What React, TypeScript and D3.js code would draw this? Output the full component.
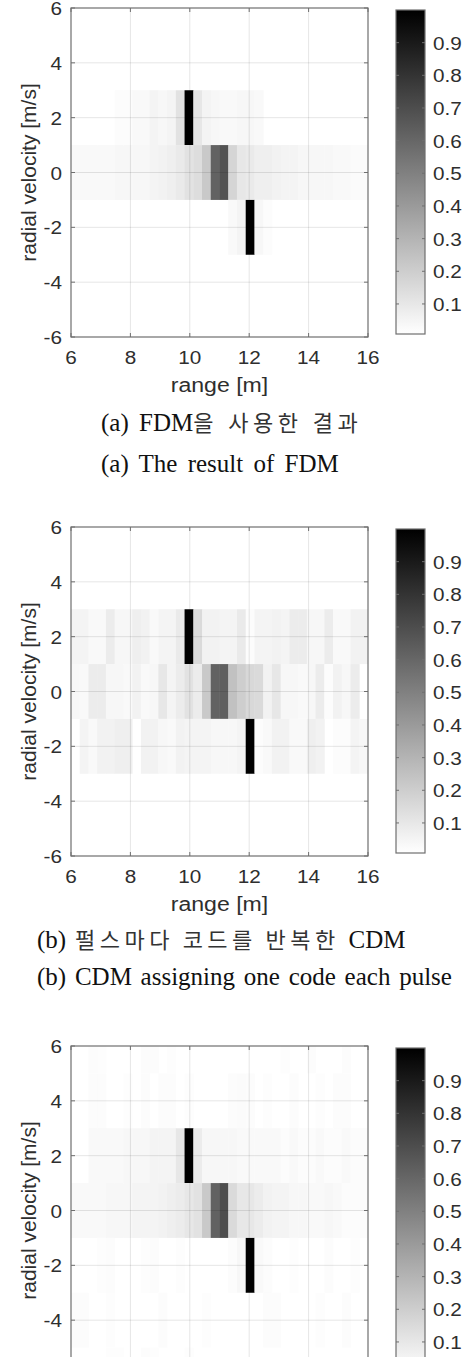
import { useRef, useEffect } from "react";
import * as d3 from "d3";

// axis ticks
const rangeTicks = [6, 8, 10, 12, 14, 16];
const velocityTicks = [-6, -4, -2, 0, 2, 4, 6];
const colorbarTicks = [0.1, 0.2, 0.3, 0.4, 0.5, 0.6, 0.7, 0.8, 0.9];
const colorLimits = [0.008, 1];

// grid of the range-doppler map
const rangeDomain = [6, 16];
const velocityDomain = [-6, 6];
const rangeBinCount = 34;
const velocityBins = [6, 4, 2, 0, -2, -4, -6]; // bin centres, 2 m/s wide

// (a) FDM, rows top to bottom, one value per range bin
const fdmRows: number[][] = [
  [],
  [],
  [0, 0, 0, 0, 0, 0.02, 0.02, 0.03, 0.03, 0.05, 0.04, 0.05, 0.12, 1.0, 0.1, 0.05, 0.04, 0.03, 0.03, 0.04, 0.04, 0.03],
  [0.03, 0.03, 0.03, 0.03, 0.03, 0.04, 0.04, 0.04, 0.04, 0.05, 0.06, 0.07, 0.09, 0.12, 0.14, 0.22, 0.62, 0.68, 0.17, 0.1, 0.09, 0.07, 0.07, 0.06, 0.05, 0.05, 0.04, 0.04, 0.04, 0.04, 0.03, 0.03, 0.025, 0.025],
  [0, 0, 0, 0, 0, 0, 0, 0, 0, 0, 0, 0, 0, 0, 0, 0, 0, 0, 0.03, 0.05, 1.0, 0.04, 0.02],
  [],
  [],
];

// (b) CDM assigning one code each pulse
const cdmRows: number[][] = [
  [],
  [],
  [0.05, 0.05, 0.03, 0.03, 0.08, 0.04, 0.04, 0.07, 0.06, 0.03, 0.05, 0.05, 0.09, 1.0, 0.15, 0.06, 0.06, 0.05, 0.05, 0.09, 0.02, 0.05, 0.05, 0.06, 0.05, 0.08, 0.08, 0.04, 0.04, 0.08, 0.03, 0.03, 0.06, 0.06],
  [0.04, 0.03, 0.08, 0.08, 0.04, 0.04, 0.03, 0.06, 0.03, 0.04, 0.1, 0.05, 0.08, 0.12, 0.08, 0.22, 0.62, 0.63, 0.25, 0.2, 0.16, 0.15, 0.06, 0.1, 0.04, 0.04, 0.03, 0.04, 0.08, 0.02, 0.06, 0.04, 0.08, 0],
  [0, 0.05, 0.03, 0.06, 0.06, 0.07, 0.07, 0, 0.06, 0.06, 0.04, 0.03, 0.06, 0.05, 0.05, 0.05, 0.04, 0.04, 0.04, 0.05, 1.0, 0.02, 0.03, 0.06, 0.06, 0.03, 0.03, 0.07, 0.06, 0, 0.02, 0.02, 0.05, 0.04],
  [],
  [],
];

// third map (cropped at the bottom of the page)
const thirdRows: number[][] = [
  [0, 0, 0.02, 0.015, 0, 0, 0, 0, 0.02, 0.02, 0, 0.015, 0, 0, 0, 0, 0, 0, 0, 0, 0, 0, 0, 0, 0.015, 0, 0, 0.02, 0, 0, 0, 0.02],
  [0, 0, 0.02, 0.02, 0, 0, 0.015, 0, 0.02, 0, 0.02, 0.02, 0, 0.015, 0, 0, 0, 0, 0.02, 0.025, 0.02, 0, 0.015, 0, 0, 0.02, 0, 0, 0.015, 0, 0.02, 0.02],
  [0, 0, 0.03, 0.03, 0.03, 0.03, 0.04, 0.04, 0.04, 0.05, 0.05, 0.05, 0.1, 1.0, 0.08, 0.04, 0.04, 0.04, 0.04, 0.03, 0.03, 0.03, 0.03, 0.03, 0.02, 0.03, 0.02, 0.02, 0.03, 0.02, 0.02, 0.03, 0.02, 0.02],
  [0.03, 0.03, 0.03, 0.03, 0.04, 0.04, 0.04, 0.05, 0.05, 0.05, 0.06, 0.07, 0.08, 0.1, 0.12, 0.22, 0.62, 0.7, 0.15, 0.1, 0.1, 0.08, 0.06, 0.05, 0.05, 0.04, 0.04, 0.03, 0.03, 0.04, 0.03, 0.02, 0.02, 0.02],
  [0, 0, 0, 0.015, 0.02, 0, 0, 0, 0.015, 0.02, 0, 0, 0.015, 0, 0, 0, 0, 0, 0.02, 0.04, 1.0, 0.03, 0.02, 0, 0, 0.015, 0, 0, 0, 0.02, 0, 0, 0.015],
  [0.02, 0.02, 0, 0, 0.015, 0, 0, 0, 0, 0, 0.02, 0, 0, 0, 0, 0.015, 0, 0, 0, 0, 0, 0, 0.02, 0.02, 0, 0, 0, 0, 0.015, 0, 0, 0.02],
  [0, 0, 0, 0, 0.015, 0.015, 0, 0, 0.02, 0.015, 0, 0, 0, 0.015],
];

const captionsA = ["(a) FDM을 사용한 결과", "(a) The result of FDM"];
const captionsB = ["(b) 펄스마다 코드를 반복한 CDM", "(b) CDM assigning one code each pulse"];

const panels = [
  { rows: fdmRows, top: 8, captions: captionsA, capX: 101, capY: [431, 472], ws: 4 },
  { rows: cdmRows, top: 527, captions: captionsB, capX: 37, capY: [948, 985], ws: 2.5 },
  { rows: thirdRows, top: 1046, captions: [] as string[], capX: 0, capY: [] as number[], ws: 0 },
];

const W = 470;
const H = 1357;
const plotLeft = 71;
const plotRight = 368;
const plotHeight = 329;
const cbLeft = 396;
const cbRight = 425;
const axisColor = "#6f6f6f";
const textColor = "#2e2e2e";
const sansFont = "'Liberation Sans', Arial, Helvetica, sans-serif";
const serifFont = "'Liberation Serif', 'Times New Roman', serif";
const koFont = "'Noto Sans CJK KR', sans-serif";

const App = () => {
  const ref = useRef<SVGSVGElement>(null);

  useEffect(() => {
    if (!ref.current) return;
    const svg = d3.select(ref.current);
    svg.selectAll("*").remove();

    const defs = svg.append("defs");
    defs
      .append("filter")
      .attr("id", "soft")
      .attr("x", "-5%")
      .attr("y", "-5%")
      .attr("width", "110%")
      .attr("height", "110%")
      .append("feGaussianBlur")
      .attr("stdDeviation", 0.45);

    const grad = defs
      .append("linearGradient")
      .attr("id", "cbgrad")
      .attr("x1", 0)
      .attr("y1", 1)
      .attr("x2", 0)
      .attr("y2", 0);
    grad.append("stop").attr("offset", "0%").attr("stop-color", "#ffffff");
    grad.append("stop").attr("offset", "100%").attr("stop-color", "#000000");

    const color = d3
      .scaleLinear<string>()
      .domain(colorLimits)
      .range(["#ffffff", "#000000"])
      .clamp(true);

    // stretched sans text, like the source figure; skip what falls below the page
    const label = (
      g: d3.Selection<SVGGElement, unknown, null, undefined>,
      x: number,
      y: number,
      txt: string,
      anchor: string,
      size: number,
      sx: number
    ) => {
      if (y - size * 0.75 > H) return;
      g.append("g")
        .attr("transform", `translate(${x},${y}) scale(${sx},1)`)
        .append("text")
        .attr("text-anchor", anchor)
        .attr("font-family", sansFont)
        .attr("font-size", size)
        .attr("fill", textColor)
        .text(txt);
    };

    panels.forEach((p, pi) => {
      const g = svg.append("g");
      const x = d3.scaleLinear().domain(rangeDomain).range([plotLeft, plotRight]);
      const y = d3.scaleLinear().domain(velocityDomain).range([p.top + plotHeight, p.top]);
      const col = d3
        .scaleBand<number>()
        .domain(d3.range(rangeBinCount))
        .range([x(rangeDomain[0]), x(rangeDomain[1])])
        .padding(0);

      defs
        .append("clipPath")
        .attr("id", `clip${pi}`)
        .append("rect")
        .attr("x", plotLeft)
        .attr("y", p.top)
        .attr("width", plotRight - plotLeft)
        .attr("height", plotHeight);

      const cells = p.rows.flatMap((row, ri) =>
        row.map((v, ci) => ({ v, ci, vc: velocityBins[ri] })).filter((d) => d.v > 0)
      );

      g.append("rect")
        .attr("x", plotLeft)
        .attr("y", p.top)
        .attr("width", plotRight - plotLeft)
        .attr("height", plotHeight)
        .attr("fill", "#ffffff");

      g.append("g")
        .attr("clip-path", `url(#clip${pi})`)
        .append("g")
        .attr("filter", "url(#soft)")
        .selectAll("rect")
        .data(cells)
        .enter()
        .append("rect")
        .attr("x", (d) => col(d.ci)!)
        .attr("width", col.bandwidth() + 0.4)
        .attr("y", (d) => y(d.vc + 1))
        .attr("height", (d) => y(d.vc - 1) - y(d.vc + 1))
        .attr("fill", (d) => color(d.v));

      // grid
      const grid = g.append("g").attr("stroke", "#000").attr("stroke-opacity", 0.1);
      rangeTicks.slice(1, -1).forEach((t) =>
        grid.append("line").attr("x1", x(t)).attr("x2", x(t)).attr("y1", p.top).attr("y2", p.top + plotHeight)
      );
      velocityTicks.slice(1, -1).forEach((t) =>
        grid.append("line").attr("x1", plotLeft).attr("x2", plotRight).attr("y1", y(t)).attr("y2", y(t))
      );

      // ticks (inward, both sides)
      const tk = g.append("g").attr("stroke", axisColor).attr("stroke-width", 1);
      rangeTicks.forEach((t) => {
        tk.append("line").attr("x1", x(t)).attr("x2", x(t)).attr("y1", p.top + plotHeight).attr("y2", p.top + plotHeight - 4);
        tk.append("line").attr("x1", x(t)).attr("x2", x(t)).attr("y1", p.top).attr("y2", p.top + 4);
      });
      velocityTicks.forEach((t) => {
        tk.append("line").attr("x1", plotLeft).attr("x2", plotLeft + 4).attr("y1", y(t)).attr("y2", y(t));
        tk.append("line").attr("x1", plotRight).attr("x2", plotRight - 4).attr("y1", y(t)).attr("y2", y(t));
      });

      g.append("rect")
        .attr("x", plotLeft)
        .attr("y", p.top)
        .attr("width", plotRight - plotLeft)
        .attr("height", plotHeight)
        .attr("fill", "none")
        .attr("stroke", axisColor)
        .attr("stroke-width", 1.2);

      // tick labels
      rangeTicks.forEach((t) => label(g, x(t), p.top + 356, String(t), "middle", 18.5, 1.12));
      velocityTicks.forEach((t) => label(g, 62, y(t) + 7, String(t), "end", 18.5, 1.12));

      label(g, (plotLeft + plotRight) / 2, p.top + 384, "range [m]", "middle", 21, 1.1);
      g.append("text")
        .attr("transform", `translate(36,${p.top + plotHeight / 2}) rotate(-90)`)
        .attr("text-anchor", "middle")
        .attr("font-family", sansFont)
        .attr("font-size", 21)
        .attr("fill", textColor)
        .text("radial velocity [m/s]");

      // colorbar
      const cbTop = p.top + 2;
      const cbBottom = p.top + 326;
      const cy = d3.scaleLinear().domain(colorLimits).range([cbBottom, cbTop]);
      g.append("rect")
        .attr("x", cbLeft)
        .attr("y", cbTop)
        .attr("width", cbRight - cbLeft)
        .attr("height", cbBottom - cbTop)
        .attr("fill", "url(#cbgrad)")
        .attr("stroke", axisColor)
        .attr("stroke-width", 1.2);
      const ctk = g.append("g").attr("stroke", axisColor);
      colorbarTicks.forEach((t) => {
        ctk.append("line").attr("x1", cbLeft).attr("x2", cbLeft + 3).attr("y1", cy(t)).attr("y2", cy(t));
        ctk.append("line").attr("x1", cbRight).attr("x2", cbRight - 3).attr("y1", cy(t)).attr("y2", cy(t));
        label(g, 433, cy(t) + 7, String(t), "start", 18.5, 1.12);
      });

      // captions: latin in serif, hangul runs in the CJK font
      p.captions.forEach((c, li) => {
        const txt = g
          .append("text")
          .attr("x", p.capX)
          .attr("y", p.capY[li])
          .attr("font-family", serifFont)
          .attr("font-size", 25)
          .attr("fill", "#111")
          .style("word-spacing", `${p.ws}px`);
        c.split(/([\uAC00-\uD7A3]+)/).forEach((seg) => {
          if (!seg) return;
          const ko = /[\uAC00-\uD7A3]/.test(seg);
          const ts = txt.append("tspan").text(seg);
          if (ko) {
            ts.attr("font-family", koFont)
              .attr("font-size", 22)
              .attr("fill", "#333")
              .style("letter-spacing", "4.5px");
          }
        });
      });
    });

    return () => {
      svg.selectAll("*").remove();
    };
  }, []);

  return (
    <svg
      ref={ref}
      width={W}
      height={H}
      style={{ position: "absolute", left: 0, top: 0, background: "#fff" }}
    ></svg>
  );
};

export default App;
